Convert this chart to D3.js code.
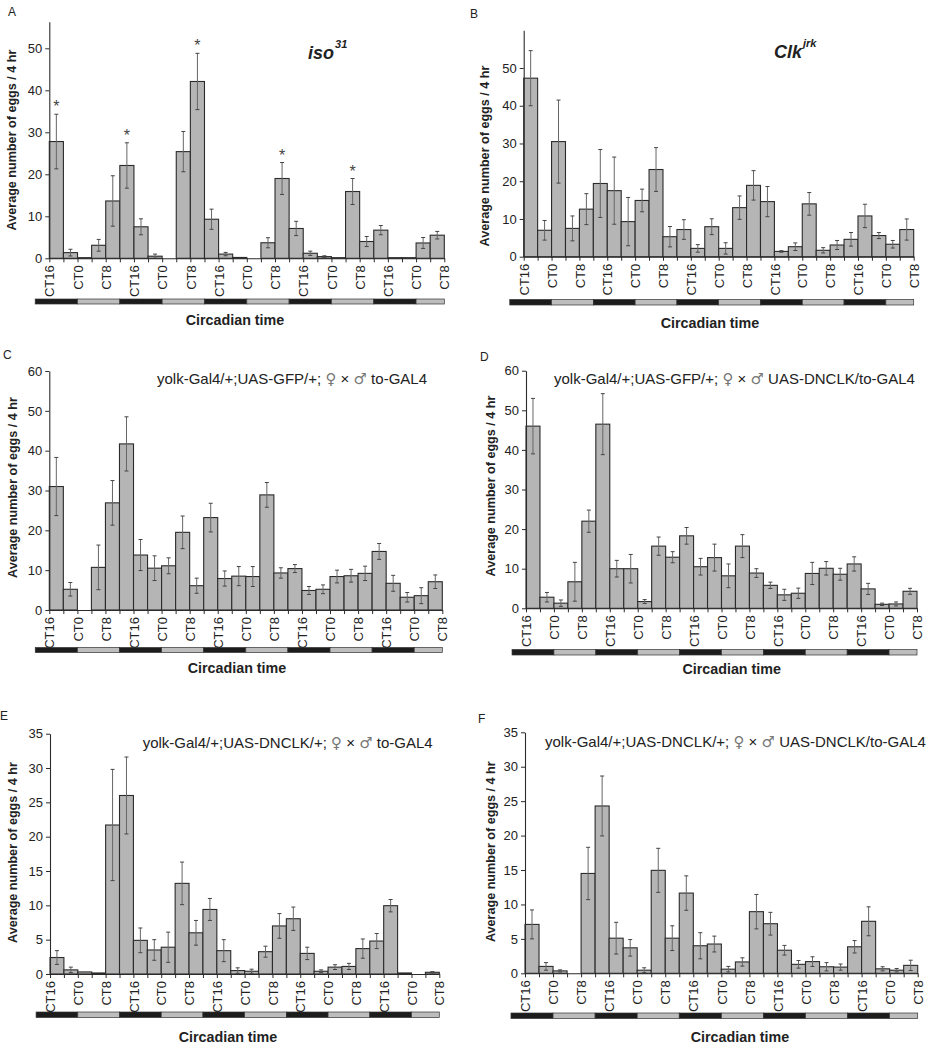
<!DOCTYPE html>
<html><head><meta charset="utf-8">
<script src="https://cdn.jsdelivr.net/npm/d3@7"></script>
<style>body{margin:0;background:#fff}svg{display:block}text{font-family:"Liberation Sans",Arial,sans-serif;fill:#222}</style>
</head><body><svg id="c" width="931" height="1050"></svg>
<script>
// ---- data ----
const tickLabels = ["CT16","CT0","CT8","CT16","CT0","CT8","CT16","CT0","CT8","CT16","CT0","CT8","CT16","CT0","CT8"];
const barTimes = d3.range(28).map(i => 16 + 4 * i); // hours from start (CT16)
const isoMean = [27.8,1.35,0.15,3.1,13.65,22.1,7.5,0.5,0,25.4,42.1,9.3,1.0,0.2,0,3.7,19.0,7.1,1.2,0.4,0.15,15.9,4.0,6.7,0.15,0.15,3.65,5.5];
const isoErr  = [6.5,0.8,0,1.4,6,5.4,1.9,0.5,0,4.8,6.7,2.4,0.4,0,0,1.2,3.8,1.7,0.5,0.2,0,3.1,1.2,1.1,0,0,1.3,0.9];
const isoStars = [0,5,10,16,21];
const clkMean = [47.3,7.0,30.5,7.5,12.6,19.4,17.5,9.3,14.9,23.1,5.3,7.2,2.2,7.95,2.2,13.0,18.9,14.6,1.4,2.65,14.0,1.7,3.1,4.6,10.8,5.6,3.3,7.2];
const clkErr  = [7.3,2.6,11,3.3,4.1,9,8.9,6.4,3,5.8,2.7,2.6,1,2.1,1.5,3.1,3.9,4,0.2,1,3,0.7,1.2,1.8,3.1,0.8,1,2.8];
const gfpCtlMean = [31.0,5.2,0,10.7,26.9,41.7,13.8,10.5,11.1,19.5,6.1,23.2,7.9,8.5,8.4,28.9,9.3,10.4,4.9,5.2,8.4,8.6,9.2,14.7,6.7,3.2,3.6,7.1];
const gfpCtlErr  = [7.3,1.7,0,5.6,5.6,6.8,3.9,3.1,2,4.1,1.9,3.6,1.9,2.4,2.5,3.1,1.3,1,1,1.1,1.6,1.6,1.8,2,2,1.2,2,1.7];
const gfpDnMean = [46.0,2.8,1.3,6.7,22.0,46.5,10.0,10.0,1.7,15.7,12.9,18.3,10.5,12.8,8.2,15.7,8.9,5.8,3.4,3.8,8.8,10.1,8.6,11.2,4.9,1.0,1.1,4.3];
const gfpDnErr  = [7,1.2,0.8,4.9,2.8,7.7,2.1,3.6,0.5,2.3,1.4,2.1,2.1,3.4,3,2.9,1.1,0.8,1.4,1.3,2.8,1.7,1.5,1.8,1.4,0.3,0.5,0.75];
const dnCtlMean = [2.4,0.6,0.3,0.15,21.7,26.0,4.9,3.5,3.9,13.2,6.0,9.4,3.4,0.5,0.4,3.25,7.0,8.05,3.0,0.4,1.0,1.1,3.7,4.8,9.95,0.15,0,0.25];
const dnCtlErr  = [1,0.4,0,0,8.1,5.6,1.8,1.5,2.2,3.1,1.8,1.6,1.6,0.4,0.3,0.8,1.8,1.7,0.9,0.2,0.35,0.45,1.4,1.1,0.9,0,0,0.1];
const dnDnMean = [7.1,1.0,0.35,0,14.5,24.3,5.1,3.7,0.45,14.95,5.1,11.65,4.0,4.25,0.6,1.65,8.95,7.2,3.35,1.3,1.7,0.95,0.9,3.85,7.55,0.65,0.45,1.15];
const dnDnErr  = [2.1,0.55,0.15,0,3.8,4.35,2.3,1.2,0.35,3.2,1.8,2.5,1.9,1.15,0.4,0.6,2.5,1.65,0.7,0.55,0.7,0.6,0.45,0.9,2.1,0.3,0.25,0.75];

// ---- layout ----
const panels = [
 {letter:"A",lx:8,ly:16,mean:isoMean,err:isoErr,stars:isoStars,left:49.3,right:444.3,zero:258.3,ppu:4.2,axisMax:56.3,ticks:[0,10,20,30,40,50],
  ldY:299,ldH:5,ctX:235,ctY:325,ytX:15.7,ytY:140,title:{type:"sup",main:"iso",sup:"31",x:308,y:59}},
 {letter:"B",lx:470,ly:18,mean:clkMean,err:clkErr,stars:[],left:523.7,right:913.7,zero:256.7,ppu:3.774,axisMax:60,ticks:[0,10,20,30,40,50],
  ldY:299.5,ldH:5.5,ctX:710,ctY:328,ytX:489.4,ytY:156,title:{type:"sup",main:"Clk",sup:"jrk",x:774,y:58}},
 {letter:"C",lx:3,ly:359,mean:gfpCtlMean,err:gfpCtlErr,stars:[],left:49.3,right:442.3,zero:610,ppu:3.983,axisMax:60,ticks:[0,10,20,30,40,50,60],
  ldY:647.5,ldH:5,ctX:237,ctY:673,ytX:17.4,ytY:487.5,title:{type:"txt",parts:["yolk-Gal4/+;UAS-GFP/+; ","♀"," × ","♂"," to-GAL4"],x:157,y:384}},
 {letter:"D",lx:480,ly:361,mean:gfpDnMean,err:gfpDnErr,stars:[],left:526,right:917,zero:608.3,ppu:3.96,axisMax:60,ticks:[0,10,20,30,40,50,60],
  ldY:649.5,ldH:5.5,ctX:731.7,ctY:674,ytX:495.4,ytY:486,title:{type:"txt",parts:["yolk-Gal4/+;UAS-GFP/+; ","♀"," × ","♂"," UAS-DNCLK/to-GAL4"],x:554,y:384}},
 {letter:"E",lx:0,ly:720,mean:dnCtlMean,err:dnCtlErr,stars:[],left:50,right:439.3,zero:974,ppu:6.866,axisMax:35,ticks:[0,5,10,15,20,25,30,35],
  ldY:1012,ldH:5.5,ctX:228,ctY:1042,ytX:17.4,ytY:852.5,title:{type:"txt",parts:["yolk-Gal4/+;UAS-DNCLK/+; ","♀"," × ","♂"," to-GAL4"],x:142.7,y:748}},
 {letter:"F",lx:478,ly:723,mean:dnDnMean,err:dnDnErr,stars:[],left:525,right:917.7,zero:973.3,ppu:6.886,axisMax:35,ticks:[0,5,10,15,20,25,30,35],
  ldY:1013,ldH:5.5,ctX:740,ctY:1042,ytX:495.4,ytY:851.7,title:{type:"txt",parts:["yolk-Gal4/+;UAS-DNCLK/+; ","♀"," × ","♂"," UAS-DNCLK/to-GAL4"],x:545,y:747}}
];

const svg = d3.select("#c");
const barFill = "#b5b5b5", ink = "#2b2b2b";

panels.forEach(p => {
  const g = svg.append("g");
  const x = d3.scaleBand().domain(d3.range(28)).range([p.left, p.right]).paddingInner(0).paddingOuter(0);
  const edge = d3.scaleLinear().domain([0, 28]).range([p.left, p.right]);
  const hour = d3.scaleLinear().domain([16, 16 + 112]).range([p.left, p.right]);
  const y = d3.scaleLinear().domain([0, p.axisMax]).range([p.zero, p.zero - p.axisMax * p.ppu]);

  // bars
  const data = p.mean.map((m, i) => ({i, m, e: p.err[i], t: barTimes[i]}));
  g.selectAll("rect.bar").data(data.filter(d => d.m > 0)).join("rect")
    .attr("x", d => x(d.i)).attr("width", x.bandwidth())
    .attr("y", d => y(d.m)).attr("height", d => y(0) - y(d.m))
    .attr("fill", barFill).attr("stroke", ink).attr("stroke-width", 1.1);

  // error bars
  const eb = data.filter(d => d.e > 0 && d.m > 0);
  const cx = d => x(d.i) + x.bandwidth() / 2;
  g.selectAll("line.ev").data(eb).join("line")
    .attr("x1", cx).attr("x2", cx).attr("y1", d => y(d.m + d.e)).attr("y2", d => y(Math.max(0, d.m - d.e)))
    .attr("stroke", "#666").attr("stroke-width", 1);
  [1, -1].forEach(s => {
    g.selectAll("line.cap" + s).data(eb).join("line")
      .attr("x1", d => cx(d) - 2).attr("x2", d => cx(d) + 2)
      .attr("y1", d => y(Math.max(0, d.m + s * d.e))).attr("y2", d => y(Math.max(0, d.m + s * d.e)))
      .attr("stroke", "#444").attr("stroke-width", 1);
  });

  // stars
  g.selectAll("text.star").data(data.filter(d => p.stars.includes(d.i))).join("text")
    .attr("x", cx).attr("y", d => y(d.m + d.e) - 2).attr("text-anchor", "middle")
    .style("font-size", "16px").style("fill", "#444").text("*");

  // y axis
  const ya = g.append("g").attr("transform", `translate(${p.left},0)`)
    .call(d3.axisLeft(y).tickValues(p.ticks).tickSize(4).tickSizeOuter(0).tickPadding(3));
  ya.select(".domain").attr("stroke", ink).attr("stroke-width", 1.1);
  ya.selectAll(".tick line").attr("stroke", ink);
  ya.selectAll(".tick text").style("font-size", "13px").style("font-family", "Liberation Sans, Arial, sans-serif").attr("fill", "#333");

  // x axis
  const xa = g.append("g").attr("transform", `translate(0,${p.zero})`)
    .call(d3.axisBottom(edge).tickValues(d3.range(29)).tickSize(4).tickSizeOuter(0)
      .tickFormat(i => i % 2 === 0 ? tickLabels[i / 2] : ""));
  xa.select(".domain").attr("stroke", ink).attr("stroke-width", 1.1);
  xa.selectAll(".tick line").attr("stroke", ink);
  xa.selectAll(".tick text").style("font-size", "13px").style("font-family", "Liberation Sans, Arial, sans-serif").attr("fill", "#333")
    .attr("text-anchor", "end").attr("transform", "rotate(-90)")
    .attr("x", -7).attr("y", 0).attr("dy", "0.36em");

  // light/dark bar (CT12 before first bar to the end)
  const segs = [];
  for (let h = 12; h < 128; h += 12) segs.push({s: h, e: Math.min(h + 12, 128), dark: (h % 24) === 12});
  g.selectAll("rect.ld").data(segs).join("rect")
    .attr("x", d => hour(d.s)).attr("width", d => hour(d.e) - hour(d.s))
    .attr("y", p.ldY).attr("height", p.ldH)
    .attr("fill", d => d.dark ? "#1c1c1c" : "#bdbdbd").attr("stroke", "#333").attr("stroke-width", 0.7);

  // labels
  g.append("text").attr("x", p.ctX).attr("y", p.ctY).attr("text-anchor", "middle")
    .style("font-size", "14.3px").style("font-weight", "bold").text("Circadian time");
  g.append("text").attr("transform", `translate(${p.ytX},${p.ytY}) rotate(-90)`).attr("text-anchor", "middle")
    .style("font-size", "12.6px").style("font-weight", "bold").text("Average number of eggs / 4 hr");
  g.append("text").attr("x", p.lx).attr("y", p.ly).style("font-size", "12px").text(p.letter);

  const t = p.title;
  if (t.type === "sup") {
    const tx = g.append("text").attr("x", t.x).attr("y", t.y)
      .style("font-weight", "bold").style("font-style", "italic");
    tx.append("tspan").style("font-size", "18px").text(t.main);
    tx.append("tspan").style("font-size", "11px").attr("dy", -11).attr("dx", 1).text(t.sup);
  } else {
    const tx = g.append("text").attr("x", t.x).attr("y", t.y).style("font-size", "15px");
    t.parts.forEach(s => {
      const ts = tx.append("tspan").text(s);
      if (s === "♀" || s === "♂") ts.style("fill", "#777").style("font-family", "DejaVu Sans");
    });
  }
});
</script></body></html>
